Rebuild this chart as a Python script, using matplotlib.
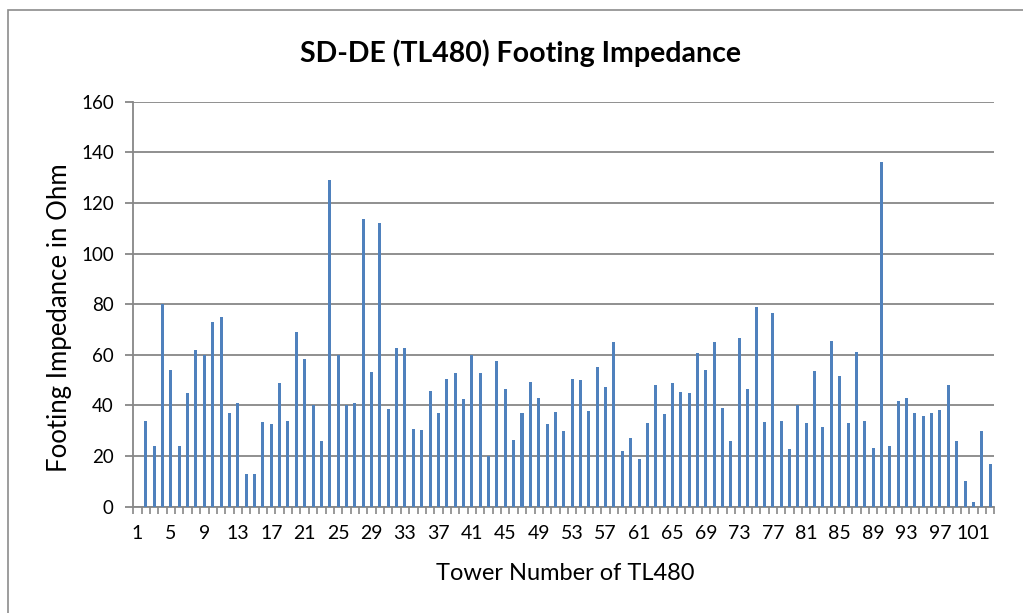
import matplotlib
matplotlib.use("Agg")
import matplotlib.pyplot as plt
from matplotlib.patches import Rectangle
import numpy as np

plt.rcParams['font.family'] = ['Lato', 'DejaVu Sans']

title = "SD-DE (TL480) Footing Impedance"
x_label = "Tower Number of TL480"
y_label = "Footing Impedance in Ohm"

towers = list(range(1, 104))
impedance = [
    0, 34, 24, 80, 54, 24, 45, 62, 60, 73,
    75, 37, 41, 13, 12.8, 33.3, 32.7, 49, 34, 69,
    58.2, 40.2, 26, 129, 60, 40, 40.8, 113.8, 53, 112,
    38.7, 62.8, 62.6, 30.6, 30.3, 45.6, 37, 50.6, 52.8, 42.4,
    60, 52.8, 20, 57.7, 46.6, 26.4, 37, 49.4, 42.8, 32.7,
    37.5, 30, 50.3, 49.9, 37.7, 55.1, 47.2, 65, 21.9, 27,
    19, 32.9, 48, 36.4, 48.9, 45.1, 44.9, 60.5, 53.9, 65,
    39.1, 26.1, 66.5, 46.4, 78.9, 33.5, 76.4, 34, 22.9, 40.2,
    33.1, 53.5, 31.6, 65.5, 51.6, 33.1, 61, 34, 23.1, 136.1,
    23.8, 41.9, 43, 36.8, 35.7, 37, 38.1, 48.2, 25.8, 10,
    1.7, 30, 16.9,
]
x_tick_labels = [str(t) for t in range(1, 102, 4)]
y_ticks = [0, 20, 40, 60, 80, 100, 120, 140, 160]

W, H = 1023, 613
fig = plt.figure(figsize=(W / 100, H / 100), dpi=100)

# outer chart border (cut off at right/bottom in reference)
fig.patches.append(Rectangle((8 / W, 0 - 0.05), 1.2, 1 - 10 / H + 0.05,
                             transform=fig.transFigure, fill=False,
                             edgecolor='#8c8c8c', linewidth=1.2))

ax = fig.add_axes([133.3 / W, 1 - 506.6 / H, (994.3 - 133.3) / W, (506.6 - 101.7) / H])

grid_col = '#878787'
ax.bar(towers, impedance, width=0.36, color='#4F81BD', zorder=3)

ax.set_xlim(0.5, 103.5)
ax.set_ylim(0, 160)
ax.set_yticks(y_ticks)
ax.set_yticklabels([str(v) for v in y_ticks], fontsize=13.5)
ax.yaxis.grid(True, color=grid_col, linewidth=1.3, zorder=0)
ax.set_axisbelow(True)

ax.set_xticks(list(range(1, 102, 4)))
ax.set_xticklabels(x_tick_labels, fontsize=14)
ax.set_xticks(np.arange(0.5, 104, 1.0), minor=True)
ax.tick_params(axis='x', which='major', length=0, pad=13)
ax.tick_params(axis='x', which='minor', length=5, width=1.2, color=grid_col, direction='out')
ax.tick_params(axis='y', which='major', length=6, width=1.3, color=grid_col, pad=8)

for s in ['top', 'right']:
    ax.spines[s].set_visible(False)
for s in ['left', 'bottom']:
    ax.spines[s].set_color(grid_col)
    ax.spines[s].set_linewidth(1.3)

fig.text(520 / W, 1 - 62 / H, title, ha='center', va='baseline', fontsize=20.5, fontweight='bold')
fig.text(565 / W, 1 - 573 / H, x_label, ha='center', va='center', fontsize=17)
fig.text(60 / W, 1 - 318 / H, y_label, ha='center', va='center', fontsize=18.5, rotation=90)

fig.savefig('out.png', dpi=100)
